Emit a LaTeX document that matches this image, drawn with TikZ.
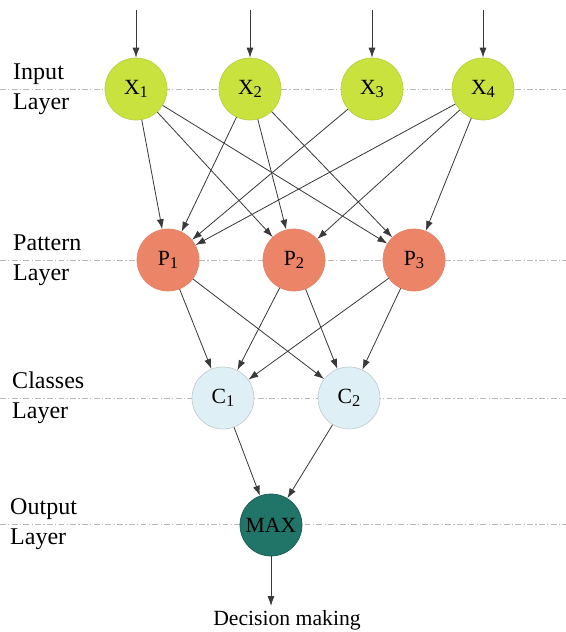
\documentclass[tikz,border=0pt]{standalone}
\usepackage{fontspec}
\setmainfont{Liberation Serif}
\usepackage{tikz}
\usetikzlibrary{arrows.meta}

\definecolor{verdeIn}{HTML}{CAE23E}
\definecolor{bordoIn}{HTML}{B9CF45}
\definecolor{salmone}{HTML}{EC8467}
\definecolor{bordoPat}{HTML}{E2866C}
\definecolor{azzurro}{HTML}{DEF0F6}
\definecolor{bordoCl}{HTML}{C3CDD2}
\definecolor{verdeOut}{HTML}{217468}
\definecolor{filo}{HTML}{3A3A3A}

% pedice un po' piu' basso e grande
\newcommand{\pedice}[1]{\raisebox{-0.35ex}{\fontsize{14}{14}\selectfont #1}}

\tikzset{
    neurone/.style={circle, minimum size=1.86cm, inner sep=0pt, line width=0.6pt},
    ingresso/.style={neurone, fill=verdeIn, draw=bordoIn},
    schema/.style={neurone, fill=salmone, draw=bordoPat},
    classe/.style={neurone, fill=azzurro, draw=bordoCl},
    uscita/.style={neurone, fill=verdeOut, draw=verdeOut!80!black},
    livello/.style={draw=gray!55, line width=0.8pt, dash pattern=on 5pt off 2pt on 1pt off 2pt},
    etichetta/.style={anchor=west, align=left, inner sep=0pt, font=\fontsize{20.5}{26}\selectfont},
    freccia/.style={->, draw=filo, line width=0.7pt}
}

\begin{document}
\begin{tikzpicture}[x=0.03cm, y=-0.03cm, >={Latex[length=8.5pt,width=6pt]}, font=\fontsize{18.5}{25}\selectfont]
    \useasboundingbox (0,0) rectangle (566,632);
    % Linee dei livelli
    \foreach \y in {89,260,398,524}
        \draw[livello] (0,\y) -- (566,\y);
    % Etichette dei livelli
    \node[etichetta] (lin) at (13,89) {Input\\Layer};
    \node[etichetta] (lpat) at (13,260) {Pattern\\Layer};
    \node[etichetta] (lcl) at (12,398) {Classes\\Layer};
    \node[etichetta] (lout) at (10,524) {Output\\Layer};
    % Livello di ingresso
    \node[ingresso] (x1) at (136,89) {X\pedice{1}};
    \node[ingresso] (x2) at (250,89) {X\pedice{2}};
    \node[ingresso] (x3) at (372,89) {X\pedice{3}};
    \node[ingresso] (x4) at (483,89) {X\pedice{4}};
    % Livello dei pattern
    \node[schema] (p1) at (168,260) {P\pedice{1}};
    \node[schema] (p2) at (294,260) {P\pedice{2}};
    \node[schema] (p3) at (414,260) {P\pedice{3}};
    % Livello delle classi
    \node[classe] (c1) at (223,398) {C\pedice{1}};
    \node[classe] (c2) at (349,398) {C\pedice{2}};
    % Uscita
    \node[uscita] (max) at (271,525) {MAX};
    \node (dec) at (287,620) {Decision making};
    % Frecce in ingresso
    \coordinate (in1) at (136,10);
    \coordinate (in2) at (250,10);
    \coordinate (in3) at (372,10);
    \coordinate (in4) at (483,10);
    \draw[freccia] (in1) -- (x1);
    \draw[freccia] (in2) -- (x2);
    \draw[freccia] (in3) -- (x3);
    \draw[freccia] (in4) -- (x4);
    % Ingressi verso pattern
    \draw[freccia] (x1) -- (p1);
    \draw[freccia] (x1) -- (p2);
    \draw[freccia] (x1) -- (p3);
    \draw[freccia] (x2) -- (p1);
    \draw[freccia] (x2) -- (p2);
    \draw[freccia] (x2) -- (p3);
    \draw[freccia] (x3) -- (p1);
    \draw[freccia] (x4) -- (p1);
    \draw[freccia] (x4) -- (p2);
    \draw[freccia] (x4) -- (p3);
    % Pattern verso classi
    \draw[freccia] (p1) -- (c1);
    \draw[freccia] (p1) -- (c2);
    \draw[freccia] (p2) -- (c1);
    \draw[freccia] (p2) -- (c2);
    \draw[freccia] (p3) -- (c1);
    \draw[freccia] (p3) -- (c2);
    % Classi verso uscita
    \draw[freccia] (c1) -- (max);
    \draw[freccia] (c2) -- (max);
    \draw[freccia] (max) -- (max |- dec.north);
\end{tikzpicture}
\end{document}
